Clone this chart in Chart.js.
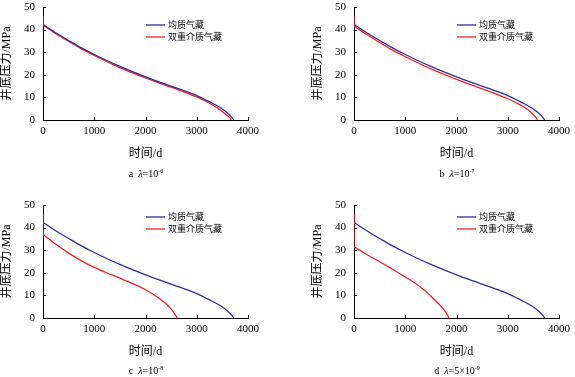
<!DOCTYPE html>
<html>
<head>
<meta charset="utf-8">
<script src="https://cdn.jsdelivr.net/npm/chart.js@4/dist/chart.umd.min.js"></script>
<style>
  body { margin: 0; width: 575px; height: 377px; overflow: hidden; background: #fff; position: relative; }
  canvas { position: absolute; }
  .cap { position: absolute; width: 120px; text-align: center; font: 10px "Liberation Serif", serif; color: #000; }
  .cap sup { font-size: 6px; }
</style>
</head>
<body>
<canvas id="pa" width="287" height="170" style="left:0;top:0"></canvas>
<canvas id="pb" width="264" height="170" style="left:311px;top:0"></canvas>
<canvas id="pc" width="287" height="170" style="left:0;top:198px"></canvas>
<canvas id="pd" width="264" height="170" style="left:311px;top:198px"></canvas>
<div class="cap" style="left:86px;top:168px">a&nbsp;&nbsp;<i>λ</i>=10<sup>-6</sup></div>
<div class="cap" style="left:397px;top:168px">b&nbsp;&nbsp;<i>λ</i>=10<sup>-7</sup></div>
<div class="cap" style="left:86px;top:365px">c&nbsp;&nbsp;<i>λ</i>=10<sup>-8</sup></div>
<div class="cap" style="left:397px;top:365px">d&nbsp;&nbsp;<i>λ</i>=5×10<sup>-9</sup></div>
<script>
const seriesNames = ['均质气藏', '双重介质气藏'];
const xTitle = '时间/d';
const yTitle = '井底压力/MPa';

// homogeneous reservoir, same in all four panels
const blueDays = [0, 250, 500, 750, 1000, 1500, 2000, 2500, 3000, 3250, 3500, 3600, 3680, 3720];
const bluePressure = [42.3, 38.6, 35.2, 31.9, 29.0, 23.7, 19.1, 15.0, 10.8, 8.0, 4.9, 3.1, 1.3, 0];

// dual porosity reservoir, one curve per lambda
const redDaysA = [0, 250, 500, 750, 1000, 1500, 2000, 2500, 3000, 3250, 3450, 3580, 3650, 3675];
const redPressureA = [42.0, 38.2, 34.8, 31.5, 28.6, 23.2, 18.6, 14.5, 10.2, 7.4, 4.6, 2.2, 0.8, 0];
const redDaysB = [0, 250, 500, 750, 1000, 1500, 2000, 2500, 3000, 3250, 3400, 3500, 3555, 3577];
const redPressureB = [41.6, 37.8, 34.3, 30.9, 28.0, 22.6, 18.0, 13.8, 9.4, 6.6, 4.4, 2.3, 1.0, 0];
const redDaysC = [0, 250, 500, 750, 1000, 1250, 1500, 1750, 2000, 2250, 2400, 2500, 2580, 2620];
const redPressureC = [37.0, 32.6, 28.7, 25.3, 22.4, 19.9, 17.6, 15.2, 12.5, 9.0, 6.3, 3.9, 1.5, 0];
const redDaysD = [0, 250, 500, 750, 1000, 1250, 1400, 1500, 1650, 1750, 1820, 1850];
const redPressureD = [31.5, 28.1, 24.9, 21.6, 18.2, 14.5, 11.8, 9.6, 6.3, 3.8, 1.5, 0];

// initial pressure, the short vertical drop at t = 0
const initialPressure = 46;

const toPoints = (days, vals) => days.map((d, i) => ({ x: d, y: vals[i] }));

const serif = '"Liberation Serif", "Noto Sans CJK SC", serif';
const cjk = '"Noto Sans CJK SC", sans-serif';
const blue = '#2e2e96';
const red = '#f52028';

// small inward tick marks + legend inside the plot
const extras = {
  id: 'extras',
  afterDraw(chart, args, opts) {
    const { ctx, chartArea: a, scales } = chart;
    ctx.save();
    ctx.strokeStyle = '#000';
    ctx.lineWidth = 1;
    scales.y.ticks.forEach((t) => {
      const py = Math.round(scales.y.getPixelForValue(t.value)) + 0.5;
      ctx.beginPath(); ctx.moveTo(a.left, py); ctx.lineTo(a.left + 3, py); ctx.stroke();
    });
    scales.x.ticks.forEach((t) => {
      const px = Math.round(scales.x.getPixelForValue(t.value)) + 0.5;
      ctx.beginPath(); ctx.moveTo(px, a.bottom); ctx.lineTo(px, a.bottom - 3); ctx.stroke();
    });
    ctx.font = '9px ' + cjk;
    ctx.textBaseline = 'middle';
    ctx.fillStyle = '#000';
    chart.data.datasets.filter((ds) => !ds.spike).forEach((ds, i) => {
      const y = a.top + opts.top + i * 12;
      ctx.strokeStyle = ds.borderColor;
      ctx.lineWidth = 1.3;
      ctx.beginPath(); ctx.moveTo(a.left + 103, y); ctx.lineTo(a.left + 122, y); ctx.stroke();
      ctx.fillText(ds.label, a.left + 125, y);
    });
    ctx.restore();
  }
};

function makePanel(id, redDays, redPressure, padRight, legendTop) {
  const ctx = document.getElementById(id).getContext('2d');
  return new Chart(ctx, {
    type: 'line',
    data: {
      datasets: [
        {
          label: seriesNames[0],
          data: toPoints(blueDays, bluePressure),
          borderColor: blue,
          borderWidth: 1.3,
          pointRadius: 0,
          fill: false,
          cubicInterpolationMode: 'monotone',
        },
        {
          label: seriesNames[1],
          data: toPoints(redDays, redPressure),
          borderColor: red,
          borderWidth: 1.3,
          pointRadius: 0,
          fill: false,
          cubicInterpolationMode: 'monotone',
        },
        {
          // drop from initial pressure, drawn on the axis
          spike: true,
          data: [{ x: 0, y: initialPressure }, { x: 0, y: redPressure[0] }],
          borderColor: red,
          borderWidth: 1.3,
          pointRadius: 0,
          fill: false,
          order: -1,
        },
      ],
    },
    options: {
      responsive: false,
      animation: false,
      layout: { padding: { left: 0, top: 7, right: padRight, bottom: 0 } },
      plugins: {
        legend: { display: false },
        tooltip: { enabled: false },
        extras: { top: legendTop },
      },
      scales: {
        x: {
          type: 'linear',
          min: 0,
          max: 4000,
          ticks: { stepSize: 1000, padding: 5, color: '#000', font: { family: serif, size: 11 }, callback: (v) => String(v) },
          grid: { drawOnChartArea: false, drawTicks: false },
          border: { color: '#000', width: 1 },
          title: { display: true, text: xTitle, color: '#000', font: { family: serif, size: 12 }, padding: { top: 0, bottom: 9 } },
          afterFit: (s) => { s.height = 50; s.paddingLeft = 0; s.paddingRight = 0; },
        },
        y: {
          min: 0,
          max: 50,
          ticks: { stepSize: 10, padding: 8, color: '#000', font: { family: serif, size: 11 } },
          grid: { drawOnChartArea: false, drawTicks: false },
          border: { color: '#000', width: 1 },
          title: { display: true, text: yTitle, color: '#000', font: { family: serif, size: 12 }, padding: 0 },
          afterFit: (s) => { s.width = 43; s.paddingTop = 0; s.paddingBottom = 0; },
        },
      },
    },
    plugins: [extras],
  });
}

makePanel('pa', redDaysA, redPressureA, 39, 18);
makePanel('pb', redDaysB, redPressureB, 16, 18);
makePanel('pc', redDaysC, redPressureC, 39, 12);
makePanel('pd', redDaysD, redPressureD, 16, 12);
</script>
</body>
</html>
